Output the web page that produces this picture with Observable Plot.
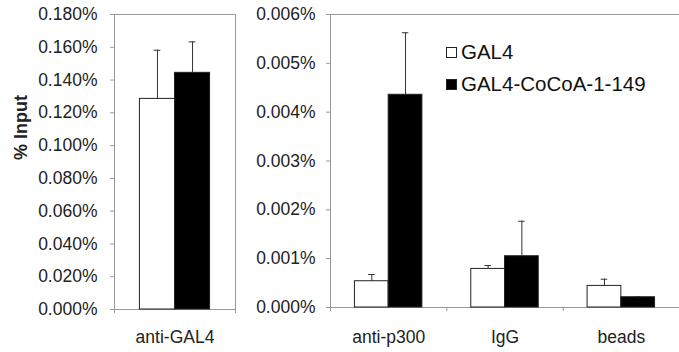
<!DOCTYPE html>
<html><head><meta charset="utf-8">
<script src="https://cdn.jsdelivr.net/npm/d3@7"></script>
<script src="https://cdn.jsdelivr.net/npm/@observablehq/plot@0.6"></script>
<style>
body{margin:0;background:#fff;}
#wrap{position:relative;width:679px;height:352px;display:flex;font-family:"Liberation Sans",Arial,sans-serif;background:#fff;}
#legend{position:absolute;left:446px;top:36px;font-size:20.5px;color:#111;}
#legend .row{height:32px;line-height:32px;white-space:nowrap;}
#legend .sw{display:inline-block;width:9px;height:9px;border:1px solid #222;margin-right:4px;vertical-align:middle;position:relative;top:-1px;}
</style></head><body>
<div id="wrap"><div id="legend"></div></div>
<script>
// ---- data (values in % input) ----
const series = ["GAL4", "GAL4-CoCoA-1-149"];
const seriesFill = ["white", "black"];

const leftCategories = ["anti-GAL4"];
const leftGal4 = [0.1285];
const leftGal4Err = [0.0297];
const leftCocoa = [0.1444];
const leftCocoaErr = [0.0189];
const leftTicks = [0, 0.02, 0.04, 0.06, 0.08, 0.10, 0.12, 0.14, 0.16, 0.18];

const rightCategories = ["anti-p300", "IgG", "beads"];
const rightGal4 = [0.000538, 0.00079, 0.000442];
const rightGal4Err = [0.000137, 0.000069, 0.000137];
const rightCocoa = [0.004356, 0.00105, 0.00021];
const rightCocoaErr = [0.00127, 0.000716, 0.00001];
const rightTicks = [0, 0.001, 0.002, 0.003, 0.004, 0.005, 0.006];

const yLabel = "% Input";

const BW = 0.29; // bar width in band units

function rowsFor(cats, gal, galErr, coc, cocErr) {
  const rows = [];
  cats.forEach((c, i) => {
    [[gal[i], galErr[i]], [coc[i], cocErr[i]]].forEach(([v, e], s) => {
      rows.push({i, cat: c, series: series[s], value: v, err: e,
        x1: i - BW + s * BW, x2: i + s * BW, xc: i - BW / 2 + s * BW});
    });
  });
  return rows;
}

const grey = "#999";
const fmt = d => d.toFixed(3) + "%";

function panel({cats, rows, ticks, width, marginLeft, marginRight, marginBottom, tickPadding, xPadding, boxRight, withLabel}) {
  const n = cats.length;
  const yMax = ticks[ticks.length - 1];
  const marks = [
    Plot.ruleY([0, yMax], {stroke: grey}),
    Plot.ruleX(boxRight ? [-0.5, n - 0.5] : [-0.5], {stroke: grey}),
    Plot.axisY({ticks, tickFormat: fmt, tickSize: 4, tickPadding, stroke: grey, label: null, fill: "#222"}),
    Plot.axisX({ticks: d3.range(-0.5, n, 1), tickFormat: () => "", tickSize: 4, stroke: grey, label: null}),
    Plot.axisX({ticks: d3.range(n), tickFormat: i => cats[i], tickSize: 0, tickPadding: xPadding, label: null, fill: "#222", fontSize: 17.5}),
    Plot.rectY(rows, {x1: "x1", x2: "x2", y1: 0, y2: "value", fill: "series", stroke: "#222", strokeWidth: 1}),
    Plot.ruleX(rows, {x: "xc", y1: "value", y2: d => d.value + d.err, stroke: "#333"}),
    Plot.ruleY(rows, {y: d => d.value + d.err, x1: d => d.xc - 0.028, x2: d => d.xc + 0.028, stroke: "#333"})
  ];
  if (withLabel) marks.push(Plot.text([yLabel], {frameAnchor: "left", rotate: -90, dx: -93, dy: -2, fontWeight: "bold", fontSize: 18, fill: "#222"}));
  return Plot.plot({
    width, height: 352, marginLeft, marginRight, marginTop: 14, marginBottom,
    style: {fontFamily: "Liberation Sans, Arial, sans-serif", fontSize: "17.5px", background: "white", overflow: "visible"},
    x: {type: "linear", domain: [-0.5, n - 0.5]},
    y: {domain: [0, yMax]},
    color: {domain: series, range: seriesFill},
    marks
  });
}

const wrap = document.getElementById("wrap");
wrap.insertBefore(panel({cats: leftCategories, rows: rowsFor(leftCategories, leftGal4, leftGal4Err, leftCocoa, leftCocoaErr),
  ticks: leftTicks, width: 240, marginLeft: 114, marginRight: 5, marginBottom: 43, tickPadding: 13, xPadding: 21, boxRight: true, withLabel: true}), wrap.firstChild);
wrap.insertBefore(panel({cats: rightCategories, rows: rowsFor(rightCategories, rightGal4, rightGal4Err, rightCocoa, rightCocoaErr),
  ticks: rightTicks, width: 439, marginLeft: 90, marginRight: 0, marginBottom: 45, tickPadding: 11, xPadding: 23, boxRight: false, withLabel: false}), document.getElementById("legend"));

const legend = document.getElementById("legend");
series.forEach((s, k) => {
  const row = document.createElement("div");
  row.className = "row";
  const sw = document.createElement("span");
  sw.className = "sw";
  sw.style.background = seriesFill[k];
  row.appendChild(sw);
  row.appendChild(document.createTextNode(s));
  legend.appendChild(row);
});
</script>
</body></html>
